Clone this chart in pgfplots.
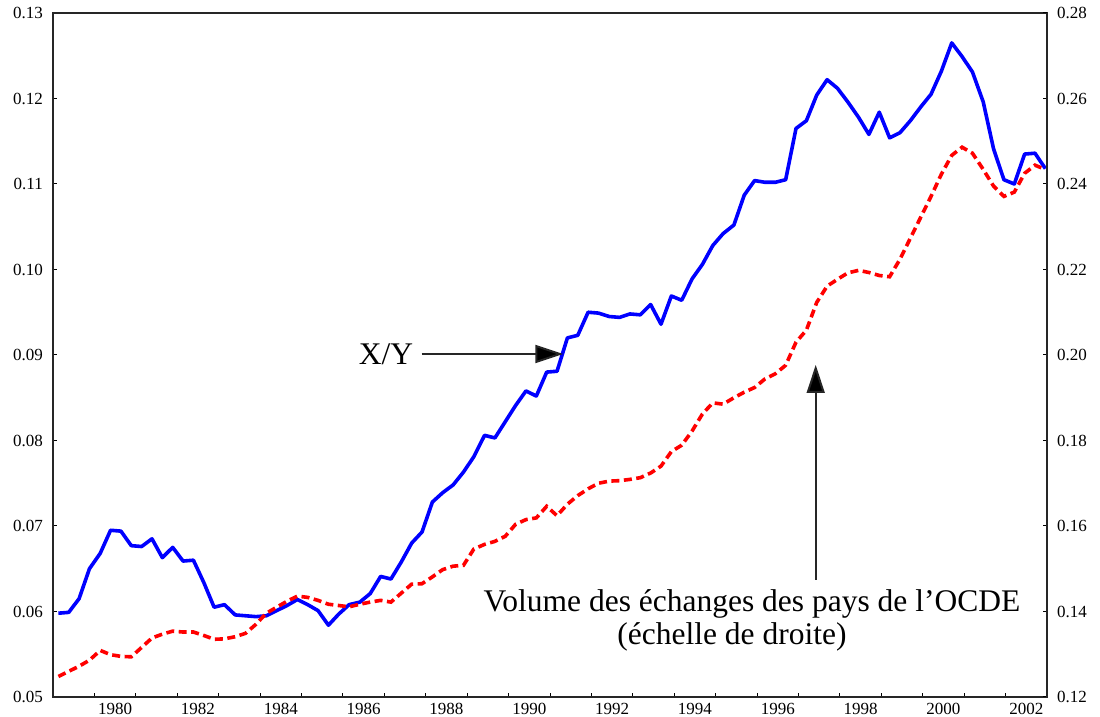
\documentclass[border=0pt]{standalone}
\usepackage{pgfplots}
\pgfplotsset{compat=1.18}
\usepackage{pgfplotstable}
\usepackage{fontspec}
\setmainfont{Liberation Serif}
\usetikzlibrary{arrows.meta}

\pgfplotstableread{
x blue red
1979.13 0.0598 0.1248
1979.38 0.0599 0.1260
1979.63 0.0615 0.1272
1979.88 0.0650 0.1286
1980.14 0.0668 0.1309
1980.39 0.0695 0.1299
1980.64 0.0694 0.1295
1980.89 0.0677 0.1294
1981.14 0.0676 0.1316
1981.39 0.0685 0.1338
1981.64 0.0663 0.1347
1981.89 0.0675 0.1354
1982.14 0.0659 0.1352
1982.39 0.0660 0.1352
1982.64 0.0634 0.1344
1982.89 0.0605 0.1335
1983.14 0.0608 0.1336
1983.40 0.0596 0.1341
1983.65 0.0595 0.1349
1983.90 0.0594 0.1370
1984.15 0.0595 0.1396
1984.40 0.0601 0.1410
1984.65 0.0607 0.1424
1984.90 0.0614 0.1436
1985.15 0.0608 0.1433
1985.40 0.0601 0.1426
1985.65 0.0584 0.1417
1985.90 0.0597 0.1414
1986.15 0.0608 0.1411
1986.41 0.0611 0.1417
1986.66 0.0621 0.1422
1986.91 0.0641 0.1426
1987.16 0.0638 0.1422
1987.41 0.0658 0.1443
1987.66 0.0680 0.1464
1987.91 0.0693 0.1465
1988.16 0.0728 0.1481
1988.41 0.0739 0.1498
1988.66 0.0748 0.1506
1988.91 0.0763 0.1508
1989.16 0.0781 0.1546
1989.42 0.0806 0.1557
1989.67 0.0803 0.1564
1989.92 0.0822 0.1576
1990.17 0.0841 0.1604
1990.42 0.0858 0.1615
1990.67 0.0852 0.1619
1990.92 0.0880 0.1646
1991.17 0.0881 0.1624
1991.42 0.0920 0.1651
1991.67 0.0923 0.1671
1991.92 0.0950 0.1687
1992.17 0.0949 0.1700
1992.43 0.0945 0.1705
1992.68 0.0944 0.1706
1992.93 0.0948 0.1709
1993.18 0.0947 0.1713
1993.43 0.0959 0.1724
1993.68 0.0936 0.1740
1993.93 0.0969 0.1774
1994.18 0.0964 0.1789
1994.43 0.0989 0.1822
1994.68 0.1006 0.1862
1994.93 0.1028 0.1888
1995.18 0.1042 0.1885
1995.44 0.1052 0.1900
1995.69 0.1087 0.1913
1995.94 0.1104 0.1924
1996.19 0.1102 0.1944
1996.44 0.1102 0.1956
1996.69 0.1105 0.1976
1996.94 0.1165 0.2030
1997.19 0.1174 0.2058
1997.44 0.1204 0.2123
1997.69 0.1222 0.2161
1997.94 0.1212 0.2177
1998.19 0.1196 0.2192
1998.45 0.1178 0.2198
1998.70 0.1158 0.2193
1998.95 0.1184 0.2186
1999.20 0.1154 0.2183
1999.45 0.1160 0.2224
1999.70 0.1174 0.2273
1999.95 0.1190 0.2322
2000.20 0.1205 0.2371
2000.45 0.1232 0.2423
2000.70 0.1265 0.2467
2000.95 0.1249 0.2486
2001.20 0.1231 0.2472
2001.46 0.1196 0.2434
2001.71 0.1141 0.2395
2001.96 0.1105 0.2371
2002.21 0.1100 0.2381
2002.46 0.1135 0.2425
2002.71 0.1136 0.2444
2002.96 0.1118 0.2434
}\data

\begin{document}
\begin{tikzpicture}[x=1pt,y=1pt]
\pgfplotsset{
  common/.style={
    at={(0pt,0pt)}, anchor=south west,
    scale only axis, width=994pt, height=684pt,
    xmin=1979, xmax=2003,
    tick align=inside, major tick length=4pt,
    tick style={black, line width=1pt},
    axis line style={black!85, line width=1.2pt},
    tick label style={font=\fontsize{17}{19}\selectfont},
    clip=false,
  }
}
\begin{axis}[common,
  ymin=0.05, ymax=0.13,
  xtick={1980,1981,1982,1983,1984,1985,1986,1987,1988,1989,1990,1991,1992,1993,1994,1995,1996,1997,1998,1999,2000,2001,2002},
  xticklabels={},
  extra x ticks={1980.5,1982.5,1984.5,1986.5,1988.5,1990.5,1992.5,1994.5,1996.5,1998.5,2000.5,2002.5},
  extra x tick labels={1980,1982,1984,1986,1988,1990,1992,1994,1996,1998,2000,2002},
  extra x tick style={major tick length=0pt},
  xtick pos=bottom,
  xticklabel style={anchor=north, inner sep=0pt, yshift=-6pt},
  ytick={0.05,0.06,0.07,0.08,0.09,0.10,0.11,0.12,0.13},
  yticklabels={0.05,0.06,0.07,0.08,0.09,0.10,0.11,0.12,0.13},
  ytick pos=left,
  yticklabel style={anchor=east, inner sep=0pt, xshift=-10pt},
]
\addplot[blue, line width=3.6pt, line join=round] table[x=x, y=blue] {\data};
\end{axis}
\begin{axis}[common,
  ymin=0.12, ymax=0.28,
  axis x line=none, axis y line*=right,
  ytick={0.12,0.14,0.16,0.18,0.20,0.22,0.24,0.26,0.28},
  yticklabels={0.12,0.14,0.16,0.18,0.20,0.22,0.24,0.26,0.28},
  yticklabel style={anchor=west, inner sep=0pt, xshift=10pt},
]
\addplot[red, line width=3.6pt, dash pattern=on 8pt off 4.5pt] table[x=x, y=red] {\data};
\end{axis}

\begin{scope}[font=\fontsize{31.5}{33}\selectfont]
\node at (333,343) {X/Y};
\draw[black!85, line width=2pt, -{Triangle[length=28pt,width=18pt,fill=black]}] (368.7,343) -- (510.3,343);
\draw[black!85, line width=2pt, -{Triangle[length=28pt,width=18pt,fill=black]}] (762.7,117) -- (762.7,332);
\node[anchor=base] at (699,85) {Volume des échanges des pays de l’OCDE};
\node[anchor=base] at (679,52) {(échelle de droite)};
\end{scope}

\pgfresetboundingbox
\path (-53,-20) rectangle (1047,697);
\end{tikzpicture}
\end{document}
